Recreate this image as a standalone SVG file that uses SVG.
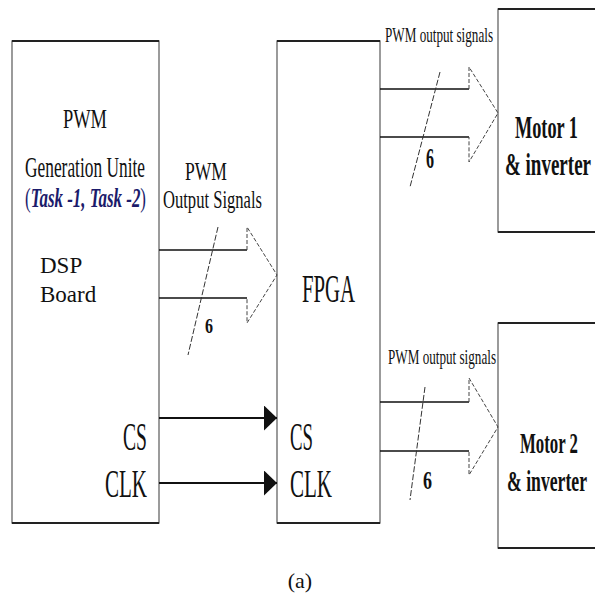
<svg xmlns="http://www.w3.org/2000/svg" width="595" height="595" viewBox="0 0 595 595" font-family="'Liberation Serif', 'DejaVu Serif', serif">
<style>
text{font-family:'Liberation Serif','DejaVu Serif',serif;fill:#111}
.box{fill:#fff;stroke:#666;stroke-width:1.3}
.edge{stroke:#222;stroke-width:2}
.b{font-weight:bold}
.bus{stroke:#111;stroke-width:1.6;fill:none}
.head{stroke:#444;stroke-width:1;fill:none;stroke-dasharray:4 2}
.slash{stroke:#333;stroke-width:1;fill:none;stroke-dasharray:6 2}
.sig{stroke:#111;stroke-width:2;fill:none}
</style>
<defs>
<marker id="ah" markerWidth="13" markerHeight="25" refX="13" refY="12.5" orient="auto" markerUnits="userSpaceOnUse">
<path d="M0,0 L13,12.5 L0,25 Z" fill="#111"/>
</marker>
</defs>
<rect width="595" height="595" fill="#fff"/>

<g id="dsp">
<rect class="box" x="12" y="41" width="147" height="482"/>
<line class="edge" x1="12" y1="41" x2="159" y2="41"/>
<line class="edge" x1="12" y1="523" x2="159" y2="523"/>
<text x="63" y="128" font-size="27" textLength="44" lengthAdjust="spacingAndGlyphs">PWM</text>
<text x="25" y="177" font-size="30" textLength="120" lengthAdjust="spacingAndGlyphs">Generation Unite</text>
<text x="25" y="207" font-size="28" textLength="121" lengthAdjust="spacingAndGlyphs" style="fill:#1b1b6b">(<tspan font-weight="bold" font-style="italic" style="fill:#1b1b6b">Task -1, Task -2</tspan>)</text>
<text x="40" y="273" font-size="23">DSP</text>
<text x="40" y="302" font-size="23">Board</text>
<text x="123" y="450" font-size="40" textLength="24" lengthAdjust="spacingAndGlyphs">CS</text>
<text x="105" y="497" font-size="40" textLength="42" lengthAdjust="spacingAndGlyphs">CLK</text>
</g>

<g id="fpga">
<rect class="box" x="277" y="41" width="103" height="482"/>
<line class="edge" x1="277" y1="41" x2="380" y2="41"/>
<line class="edge" x1="277" y1="523" x2="380" y2="523"/>
<text x="302" y="302" font-size="41" textLength="53" lengthAdjust="spacingAndGlyphs">FPGA</text>
<text x="290" y="450" font-size="40" textLength="23" lengthAdjust="spacingAndGlyphs">CS</text>
<text x="290" y="497" font-size="40" textLength="42" lengthAdjust="spacingAndGlyphs">CLK</text>
</g>

<g id="motor1">
<rect class="box" x="498" y="9" width="110" height="223"/>
<line class="edge" x1="498" y1="9" x2="600" y2="9"/>
<line class="edge" x1="498" y1="232" x2="600" y2="232"/>
<text x="515" y="138" font-size="31" class="b" textLength="63" lengthAdjust="spacingAndGlyphs">Motor 1</text>
<text x="505" y="175" font-size="31" class="b" textLength="86" lengthAdjust="spacingAndGlyphs">&amp; inverter</text>
</g>

<g id="motor2">
<rect class="box" x="498" y="323" width="110" height="225"/>
<line class="edge" x1="498" y1="323" x2="600" y2="323"/>
<line class="edge" x1="498" y1="548" x2="600" y2="548"/>
<text x="520" y="453" font-size="30" class="b" textLength="58" lengthAdjust="spacingAndGlyphs">Motor 2</text>
<text x="507" y="491" font-size="30" class="b" textLength="80" lengthAdjust="spacingAndGlyphs">&amp; inverter</text>
</g>

<g id="connectors">
<path class="bus" d="M159,250 H247 M159,298 H247"/>
<path class="head" d="M247,250 V227 L277,275 L247,323 V298"/>
<line class="slash" x1="218" y1="227" x2="188" y2="355"/>
<text x="185" y="180" font-size="26" textLength="42" lengthAdjust="spacingAndGlyphs">PWM</text>
<text x="163" y="208" font-size="26" textLength="99" lengthAdjust="spacingAndGlyphs">Output Signals</text>
<text x="205" y="333" font-size="22" class="b" textLength="8" lengthAdjust="spacingAndGlyphs">6</text>

<path class="bus" d="M380,89 H469 M380,137 H469"/>
<path class="head" d="M469,89 V67 L498,113 L469,162 V137"/>
<line class="slash" x1="440" y1="72" x2="410" y2="187"/>
<text x="385" y="42" font-size="21" textLength="108" lengthAdjust="spacingAndGlyphs">PWM output signals</text>
<text x="426" y="168" font-size="29" class="b" textLength="8" lengthAdjust="spacingAndGlyphs">6</text>

<path class="bus" d="M380,402 H469 M380,451 H469"/>
<path class="head" d="M469,402 V378 L498,427 L469,475 V451"/>
<line class="slash" x1="425" y1="387" x2="410" y2="500"/>
<text x="388" y="364" font-size="21" textLength="108" lengthAdjust="spacingAndGlyphs">PWM output signals</text>
<text x="423" y="489" font-size="25" class="b" textLength="9" lengthAdjust="spacingAndGlyphs">6</text>

<line class="sig" x1="159" y1="418" x2="277" y2="418" marker-end="url(#ah)"/>
<line class="sig" x1="159" y1="483" x2="277" y2="483" marker-end="url(#ah)"/>
</g>

<text x="300" y="588" font-size="22" text-anchor="middle">(a)</text>
</svg>
